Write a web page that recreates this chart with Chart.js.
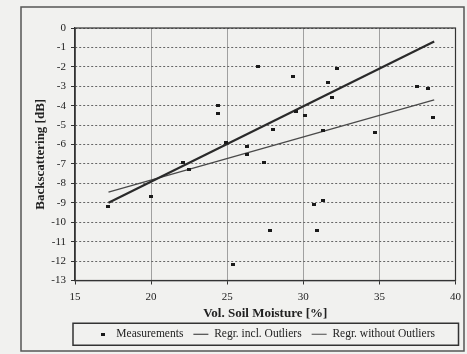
<!DOCTYPE html>
<html>
<head>
<meta charset="utf-8">
<script src="https://cdn.jsdelivr.net/npm/chart.js@4/dist/chart.umd.min.js"></script>
<style>
  html, body { margin: 0; padding: 0; background: #f1f1ef; }
  canvas { display: block; }
</style>
</head>
<body>
<canvas id="soilChart" width="467" height="354"></canvas>
<script>
// measured points (vol. soil moisture %, backscattering dB)
const moisture = [17.2, 20.0, 22.1, 22.5, 24.4, 24.4, 24.9, 25.4, 26.3, 26.3, 27.0, 27.4, 27.8, 28.0,
                  29.3, 29.5, 30.1, 30.7, 30.9, 31.3, 31.3, 31.6, 31.9, 32.2, 34.7, 37.5, 38.2, 38.5];
const backscatter = [-9.2, -8.7, -6.9, -7.3, -4.0, -4.4, -5.9, -12.2, -6.1, -6.5, -2.0, -6.9, -10.4, -5.2,
                     -2.5, -4.3, -4.5, -9.1, -10.4, -8.9, -5.3, -2.8, -3.6, -2.1, -5.4, -3.0, -3.1, -4.6];

// regression line end points
const fitX = [17.2, 38.6];
const fitIncl = [-9.0, -0.7];
const fitWithout = [-8.45, -3.7];

const seriesNames = ['Measurements', 'Regr. incl. Outliers', 'Regr. without Outliers'];

const toPoints = (xs, ys) => xs.map((x, i) => ({ x: x, y: ys[i] }));

// small black square marker
const marker = document.createElement('canvas');
marker.width = 4;
marker.height = 3;
const mctx = marker.getContext('2d');
mctx.fillStyle = '#1a1a1a';
mctx.fillRect(0, 0, 4, 3);

const serif = 'Liberation Serif, Times New Roman, serif';

const framePlugin = {
    id: 'frames',
    beforeDraw(chart) {
        const ctx = chart.ctx;
        ctx.save();
        ctx.fillStyle = '#f1f1ef';
        ctx.fillRect(0, 0, chart.width, chart.height);
        ctx.strokeStyle = '#555';
        ctx.lineWidth = 1.5;
        ctx.strokeRect(21, 7, 443, 344);
        ctx.restore();
    },
    afterDraw(chart) {
        const ctx = chart.ctx;
        const a = chart.chartArea;
        ctx.save();
        ctx.strokeStyle = '#333';
        ctx.lineWidth = 1.2;
        ctx.strokeRect(a.left, a.top, a.right - a.left, a.bottom - a.top);
        // box round the legend
        const boxes = chart.legend.legendHitBoxes;
        if (boxes && boxes.length) {
            const cy = boxes[0].top + boxes[0].height / 2;
            ctx.strokeStyle = '#333';
            ctx.lineWidth = 1.5;
            ctx.strokeRect(a.left - 2, cy - 11, a.right - a.left + 5, 22);
        }
        ctx.restore();
    }
};

new Chart(document.getElementById('soilChart'), {
    type: 'scatter',
    data: {
        datasets: [{
            label: seriesNames[0],
            data: toPoints(moisture, backscatter),
            pointStyle: marker,
            backgroundColor: '#1a1a1a',
            borderColor: '#1a1a1a'
        }, {
            label: seriesNames[1],
            data: toPoints(fitX, fitIncl),
            showLine: true,
            borderColor: '#2a2a2a',
            backgroundColor: '#2a2a2a',
            borderWidth: 2.2,
            pointRadius: 0,
            pointHoverRadius: 0,
            pointStyle: 'line',
            pointBorderWidth: 1.2
        }, {
            label: seriesNames[2],
            data: toPoints(fitX, fitWithout),
            showLine: true,
            borderColor: '#4a4a4a',
            backgroundColor: '#4a4a4a',
            borderWidth: 1.4,
            pointRadius: 0,
            pointHoverRadius: 0,
            pointStyle: 'line',
            pointBorderWidth: 1.2
        }]
    },
    options: {
        responsive: false,
        animation: false,
        layout: {
            padding: { top: 28, left: 22, right: 10, bottom: 4 }
        },
        scales: {
            x: {
                type: 'linear',
                min: 15,
                max: 40,
                afterFit: s => { s.height = 38; },
                ticks: {
                    stepSize: 5,
                    padding: 6,
                    color: '#222',
                    font: { family: serif, size: 11 }
                },
                grid: {
                    color: '#a0a0a0',
                    lineWidth: 1,
                    tickLength: 4,
                    tickColor: '#333'
                },
                border: { color: '#333', width: 1.2 },
                title: {
                    display: true,
                    text: 'Vol. Soil Moisture [%]',
                    color: '#222',
                    padding: { top: 0, bottom: -2.5 },
                    font: { family: serif, size: 13, weight: 'bold' }
                }
            },
            y: {
                min: -13,
                max: 0,
                afterFit: s => { s.width = 53; },
                ticks: {
                    stepSize: 1,
                    padding: 5,
                    color: '#222',
                    font: { family: serif, size: 11 }
                },
                grid: {
                    color: '#666',
                    lineWidth: 1,
                    tickLength: 4,
                    tickColor: '#333'
                },
                border: { color: '#333', width: 1.2, dash: [2, 2] },
                title: {
                    display: true,
                    text: 'Backscattering [dB]',
                    color: '#222',
                    padding: { top: 11, bottom: 0 },
                    font: { family: serif, size: 13, weight: 'bold' }
                }
            }
        },
        plugins: {
            legend: {
                display: true,
                position: 'bottom',
                fullSize: false,
                labels: {
                    usePointStyle: true,
                    pointStyleWidth: 15,
                    padding: 10,
                    color: '#222',
                    font: { family: serif, size: 11.5 }
                }
            },
            tooltip: { enabled: false }
        }
    },
    plugins: [framePlugin]
});
</script>
</body>
</html>
